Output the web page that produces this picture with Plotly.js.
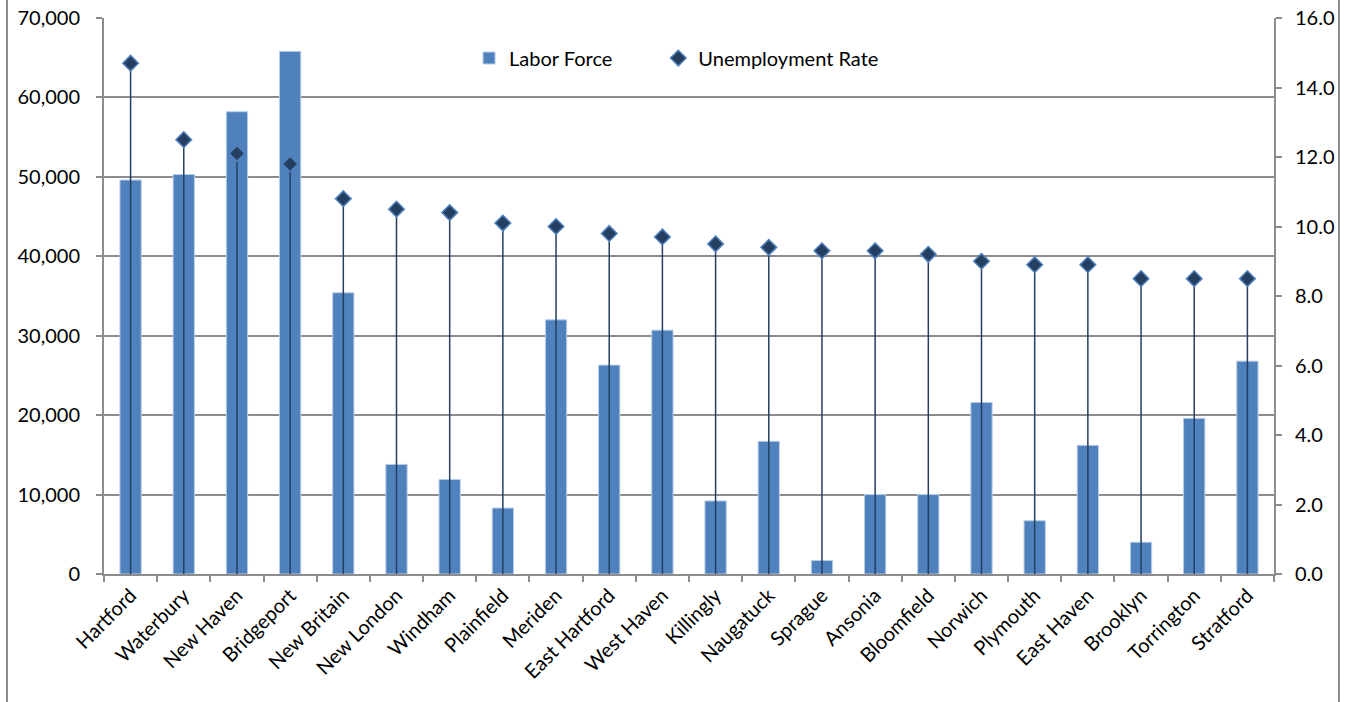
<!DOCTYPE html>
<html>
<head>
<meta charset="utf-8">
<script src="https://cdn.plot.ly/plotly-3.0.1.min.js"></script>
<style>
  html, body { margin: 0; padding: 0; background: #fff; }
  #wrap { position: relative; width: 1349px; height: 702px; overflow: hidden; }
  #chart { width: 1349px; height: 702px; }
  .edge { position: absolute; top: 0; width: 2px; height: 702px; background: #8c8c8c; }
</style>
</head>
<body>
<div id="wrap">
  <div id="chart"></div>
  <div class="edge" style="left:6px"></div>
  <div class="edge" style="left:1338px"></div>
</div>
<script>
const towns = ["Hartford","Waterbury","New Haven","Bridgeport","New Britain","New London","Windham","Plainfield","Meriden","East Hartford","West Haven","Killingly","Naugatuck","Sprague","Ansonia","Bloomfield","Norwich","Plymouth","East Haven","Brooklyn","Torrington","Stratford"];
const laborForce = [49600,50300,58200,65800,35400,13800,11900,8300,32000,26300,30700,9200,16700,1700,10000,10000,21600,6700,16200,4000,19600,26800];
const unemploymentRate = [14.7,12.5,12.1,11.8,10.8,10.5,10.4,10.1,10.0,9.8,9.7,9.5,9.4,9.3,9.3,9.2,9.0,8.9,8.9,8.5,8.5,8.5];
const leftTicks = [0,10000,20000,30000,40000,50000,60000,70000];
const rightTicks = [0,2,4,6,8,10,12,14,16];

const FONT = "Lato, 'Open Sans', sans-serif";
const GRID = "#8c8c8c";
const FS = 20;

const traces = [
  {
    type: "bar",
    name: "Labor Force" + "\u00a0".repeat(8),
    x: towns,
    y: laborForce,
    yaxis: "y",
    width: 0.4,
    marker: { color: "#4f81bd", line: { color: "#b9cde5", width: 1 } },
    hoverinfo: "x+y"
  },
  {
    type: "scatter",
    mode: "markers",
    name: "Unemployment Rate",
    x: towns,
    y: unemploymentRate,
    yaxis: "y2",
    marker: { symbol: "diamond", size: 12, color: "#243f60", line: { color: "#4f81bd", width: 1.5 } },
    error_y: { type: "data", symmetric: false, array: unemploymentRate.map(() => 0), arrayminus: unemploymentRate, color: "#243f60", thickness: 1.5, width: 0 },
    hoverinfo: "x+y"
  }
];

const layout = {
  width: 1349,
  height: 702,
  margin: { l: 104, r: 75, t: 18, b: 128 },
  paper_bgcolor: "#ffffff",
  plot_bgcolor: "#ffffff",
  font: { family: FONT, size: FS, color: "#000000" },
  showlegend: true,
  legend: {
    orientation: "h",
    x: 0.312, xanchor: "left",
    y: 0.928, yanchor: "middle",
    font: { family: FONT, size: FS, color: "#000" },
    bgcolor: "rgba(0,0,0,0)",
    traceorder: "normal"
  },
  xaxis: {
    type: "category",
    range: [-0.5, towns.length - 0.5],
    tickangle: -45,
    ticks: "outside",
    tickson: "boundaries",
    ticklen: 6,
    tickcolor: GRID,
    tickwidth: 2,
    showline: true,
    linecolor: GRID,
    linewidth: 2,
    showgrid: false,
    tickfont: { family: FONT, size: FS, color: "#000" },
    fixedrange: true
  },
  yaxis: {
    range: [0, 70000],
    tickvals: leftTicks,
    ticktext: leftTicks.map(v => v.toLocaleString("en-US")),
    ticks: "outside",
    ticklen: 6,
    tickcolor: GRID,
    tickwidth: 2,
    showline: true,
    linecolor: GRID,
    linewidth: 2,
    showgrid: true,
    gridcolor: GRID,
    gridwidth: 2,
    zeroline: false,
    ticklabelstandoff: 12,
    tickfont: { family: FONT, size: FS, color: "#000" },
    fixedrange: true
  },
  yaxis2: {
    overlaying: "y",
    side: "right",
    range: [0, 16],
    tickvals: rightTicks,
    ticktext: rightTicks.map(v => v.toFixed(1)),
    ticks: "outside",
    ticklen: 6,
    tickcolor: GRID,
    tickwidth: 2,
    showline: true,
    linecolor: GRID,
    linewidth: 2,
    showgrid: false,
    zeroline: false,
    ticklabelstandoff: 9,
    tickfont: { family: FONT, size: FS, color: "#000" },
    fixedrange: true
  }
};

Plotly.newPlot("chart", traces, layout, { displayModeBar: false, staticPlot: true });
</script>
</body>
</html>
